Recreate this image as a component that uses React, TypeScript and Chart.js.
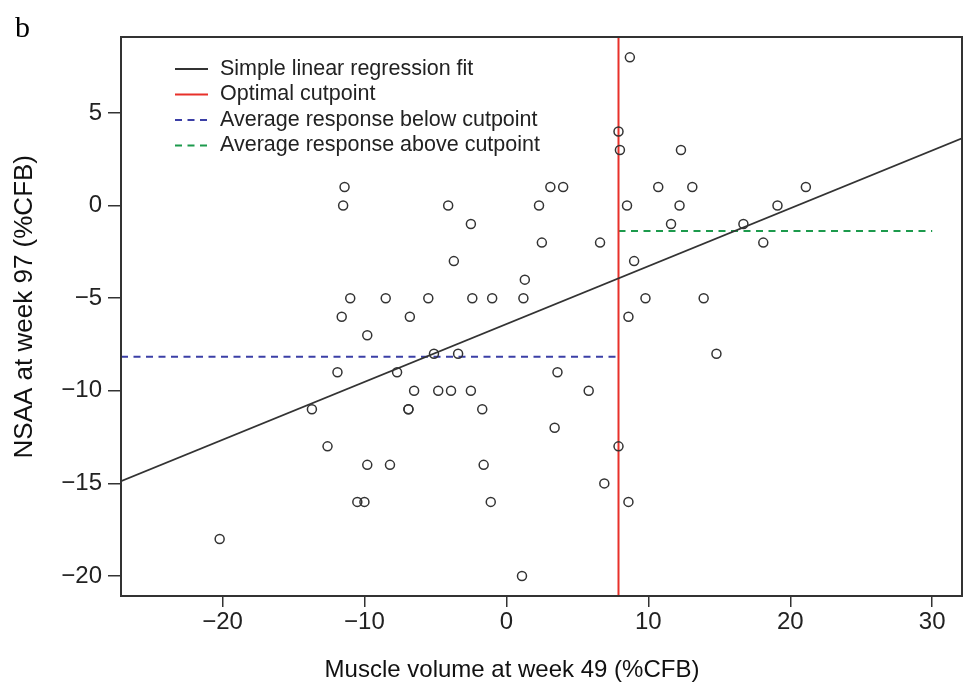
import React, { useEffect, useRef } from 'react';
import { Chart, registerables } from 'chart.js';

Chart.register(...registerables);

// Scatter data: muscle volume at week 49 (%CFB) vs NSAA at week 97 (%CFB)
const muscleVolume = [
  8.7,
  7.9,
  8.0, 12.3,
  -11.4, 3.1, 4.0, 10.7, 13.1, 21.1,
  -11.5, -4.1, 2.3, 8.5, 12.2, 19.1,
  -2.5, 11.6, 16.7,
  2.5, 6.6, 18.1,
  -3.7, 9.0,
  1.3,
  -11.0, -8.5, -5.5, -2.4, -1.0, 1.2, 9.8, 13.9,
  -11.6, -6.8, 8.6,
  -9.8,
  -5.1, -3.4, 14.8,
  -11.9, -7.7, 3.6,
  -6.5, -4.8, -3.9, -2.5, 5.8,
  -13.7, -6.9, -6.9, -1.7,
  3.4,
  -12.6, 7.9,
  -9.8, -8.2, -1.6,
  6.9,
  -10.5, -10.0, -1.1, 8.6,
  -20.2,
  1.1,
];
const nsaa = [
  8,
  4,
  3, 3,
  1, 1, 1, 1, 1, 1,
  0, 0, 0, 0, 0, 0,
  -1, -1, -1,
  -2, -2, -2,
  -3, -3,
  -4,
  -5, -5, -5, -5, -5, -5, -5, -5,
  -6, -6, -6,
  -7,
  -8, -8, -8,
  -9, -9, -9,
  -10, -10, -10, -10, -10,
  -11, -11, -11, -11,
  -12,
  -13, -13,
  -14, -14, -14,
  -15,
  -16, -16, -16, -16,
  -18,
  -20,
];

const xTicks = [-20, -10, 0, 10, 20, 30];
const yTicks = [-20, -15, -10, -5, 0, 5];
const xRange = [-27.15, 32.1];
const yRange = [-21.08, 9.1];

const regressionSlope = 0.3124;
const regressionIntercept = -6.4;
const cutpoint = 7.9;
const meanBelow = -8.16;
const meanAbove = -1.38;
const aboveLineEnd = 30;

const legendLabels = [
  'Simple linear regression fit',
  'Optimal cutpoint',
  'Average response below cutpoint',
  'Average response above cutpoint',
];
const xTitle = 'Muscle volume at week 49 (%CFB)';
const yTitle = 'NSAA at week 97 (%CFB)';
const panelLabel = 'b';

const SANS = "'Liberation Sans', Arial, Helvetica, sans-serif";
const SERIF = "'Liberation Serif', 'Times New Roman', serif";

const fmt = (v: number) => (v < 0 ? '\u2212' + Math.abs(v) : String(v));

const decorPlugin = {
  id: 'decor',
  afterDatasetsDraw(chart: any) {
    const { ctx, chartArea: a } = chart;
    ctx.save();
    // frame
    ctx.strokeStyle = '#333';
    ctx.lineWidth = 2;
    ctx.setLineDash([]);
    ctx.strokeRect(a.left, a.top, a.right - a.left, a.bottom - a.top);

    // legend inside plot
    const ds = chart.data.datasets;
    const legendDs = [ds[1], ds[2], ds[3], ds[4]];
    ctx.font = `21.5px ${SANS}`;
    ctx.textBaseline = 'middle';
    ctx.textAlign = 'left';
    legendDs.forEach((d: any, i: number) => {
      const y = a.top + 32 + i * 25.5;
      ctx.beginPath();
      ctx.strokeStyle = d.borderColor;
      ctx.lineWidth = 2;
      ctx.setLineDash(d.borderDash || []);
      ctx.moveTo(a.left + 54, y);
      ctx.lineTo(a.left + 87, y);
      ctx.stroke();
      ctx.setLineDash([]);
      ctx.fillStyle = '#222';
      ctx.fillText(legendLabels[i], a.left + 99, y);
    });
    ctx.restore();
  },
  afterDraw(chart: any) {
    const { ctx } = chart;
    ctx.save();
    ctx.fillStyle = '#111';
    ctx.textBaseline = 'alphabetic';
    // x title
    ctx.font = `24px ${SANS}`;
    ctx.textAlign = 'center';
    ctx.fillText(xTitle, 512, 677);
    // y title
    ctx.save();
    ctx.translate(31.5, 306.7);
    ctx.rotate(-Math.PI / 2);
    ctx.font = `26px ${SANS}`;
    ctx.fillText(yTitle, 0, 0);
    ctx.restore();
    // panel label
    ctx.font = `30px ${SERIF}`;
    ctx.textAlign = 'left';
    ctx.fillStyle = '#000';
    ctx.fillText(panelLabel, 15, 37);
    ctx.restore();
  },
};

export default function App() {
  const ref = useRef<HTMLCanvasElement | null>(null);

  useEffect(() => {
    document.body.style.margin = '0';
    const canvas = ref.current;
    if (!canvas) return;

    const points = muscleVolume.map((x, i) => ({ x, y: nsaa[i] }));
    const regression = [
      { x: xRange[0], y: regressionIntercept + regressionSlope * xRange[0] },
      { x: xRange[1], y: regressionIntercept + regressionSlope * xRange[1] },
    ];

    const chart = new Chart(canvas, {
      type: 'scatter',
      data: {
        datasets: [
          {
            label: 'Patients',
            data: points,
            pointRadius: 4.5,
            pointBorderWidth: 1.5,
            borderColor: '#333',
            pointBorderColor: '#333',
            backgroundColor: 'rgba(0,0,0,0)',
            pointBackgroundColor: 'rgba(0,0,0,0)',
            order: 0,
          } as any,
          {
            label: legendLabels[0],
            data: regression,
            showLine: true,
            pointRadius: 0,
            borderColor: '#333',
            borderWidth: 1.6,
            order: 1,
          },
          {
            label: legendLabels[1],
            data: [
              { x: cutpoint, y: yRange[0] },
              { x: cutpoint, y: yRange[1] },
            ],
            showLine: true,
            pointRadius: 0,
            borderColor: '#e8302a',
            borderWidth: 2,
            order: 1,
          },
          {
            label: legendLabels[2],
            data: [
              { x: xRange[0], y: meanBelow },
              { x: cutpoint, y: meanBelow },
            ],
            showLine: true,
            pointRadius: 0,
            borderColor: '#3b3fa6',
            borderWidth: 2,
            borderDash: [7, 5.5],
            order: 1,
          },
          {
            label: legendLabels[3],
            data: [
              { x: cutpoint, y: meanAbove },
              { x: aboveLineEnd, y: meanAbove },
            ],
            showLine: true,
            pointRadius: 0,
            borderColor: '#1c9a4c',
            borderWidth: 2,
            borderDash: [7, 5.5],
            order: 1,
          },
        ],
      },
      options: {
        responsive: false,
        animation: false,
        events: [],
        layout: { padding: { top: 37, right: 4, left: 0, bottom: 0 } },
        plugins: {
          legend: { display: false },
          tooltip: { enabled: false },
          title: { display: false },
        },
        scales: {
          x: {
            type: 'linear',
            min: xRange[0],
            max: xRange[1],
            afterBuildTicks: (s: any) => {
              s.ticks = xTicks.map((v) => ({ value: v }));
            },
            afterFit: (s: any) => {
              s.height = 88;
            },
            grid: {
              drawOnChartArea: false,
              drawTicks: true,
              tickLength: 11,
              color: '#333',
              lineWidth: 1.5,
            },
            border: { display: false },
            ticks: {
              padding: 1,
              autoSkip: false,
              maxRotation: 0,
              color: '#222',
              font: { family: SANS, size: 24 },
              callback: (v: any) => fmt(Number(v)),
            },
          },
          y: {
            type: 'linear',
            min: yRange[0],
            max: yRange[1],
            afterBuildTicks: (s: any) => {
              s.ticks = yTicks.map((v) => ({ value: v }));
            },
            afterFit: (s: any) => {
              s.width = 121;
            },
            grid: {
              drawOnChartArea: false,
              drawTicks: true,
              tickLength: 13,
              color: '#333',
              lineWidth: 1.5,
            },
            border: { display: false },
            ticks: {
              padding: 6,
              autoSkip: false,
              color: '#222',
              font: { family: SANS, size: 24 },
              callback: (v: any) => fmt(Number(v)),
            },
          },
        },
      },
      plugins: [decorPlugin],
    });

    return () => chart.destroy();
  }, []);

  return (
    <div style={{ width: 968, height: 684, background: '#fff' }}>
      <canvas ref={ref} width={968} height={684} style={{ display: 'block' }} />
    </div>
  );
}
